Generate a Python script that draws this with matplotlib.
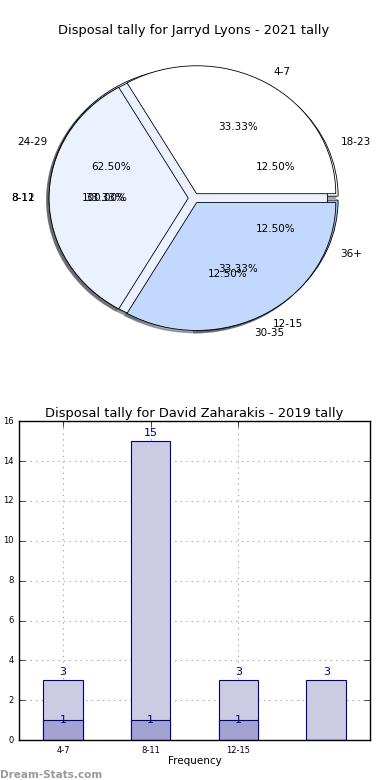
import matplotlib
matplotlib.use('Agg')
import matplotlib.pyplot as plt

plt.style.use('classic')

# 円グラフのデータ（3つの円が重ねて描かれている）
pie1_labels = ['4-7', '8-11', '12-15']
pie1_values = [1, 1, 1]
pie1_colors = ['#ffffff', '#ebf1ff', '#c3d8fd']

pie2_labels = ['18-23', '24-29', '30-35', '36+']
pie2_values = [1, 5, 1, 1]
pie2_colors = ['#ffffff', '#ebf1ff', '#c3d8fd', '#9fbff7']

pie3_labels = ['8-12']
pie3_values = [1]
pie3_colors = ['#ebf1ff']

# 棒グラフのデータ
bar_labels = ['4-7', '8-11', '12-15']
bar_total = [3, 15, 3, 3]
bar_low = [1, 1, 1, 0]

fig = plt.figure(figsize=(3.9, 7.8), dpi=100, facecolor='white')

ax1 = fig.add_axes([0.051, 0.541, 0.892, 0.41])
for vals, labs, cols in [(pie2_values, pie2_labels, pie2_colors),
                         (pie3_values, pie3_labels, pie3_colors),
                         (pie1_values, pie1_labels, pie1_colors)]:
    wedges, texts, autotexts = ax1.pie(vals, labels=labs, colors=cols, autopct='%.2f%%',
                                       explode=[0.04] * len(vals),
                                       shadow={'ox': -0.012, 'oy': -0.012, 'shade': 0.6},
                                       textprops={'fontsize': 7.5})
    for w in wedges:
        w.set_edgecolor('black')
        w.set_linewidth(0.6)
ax1.set_aspect('auto')
ax1.set_xlim(-1.25, 1.25)
ax1.set_ylim(-1.25, 1.25)
ax1.set_title('Disposal tally for Jarryd Lyons - 2021 tally', fontsize=9.4, pad=3)

ax2 = fig.add_axes([0.049, 0.051, 0.9, 0.409])
x = list(range(len(bar_total)))
ax2.bar(x, bar_total, width=0.45, align='center', color='#cbcbe3', edgecolor='navy', linewidth=0.8)
ax2.bar(x, bar_low, width=0.45, align='center', color='#a3a3d1', edgecolor='navy', linewidth=0.8)
for xi, h in zip(x, bar_total):
    ax2.text(xi, h + 0.15, str(h), ha='center', va='bottom', color='navy', fontsize=8)
for xi, h in zip(x, bar_low):
    if h > 0:
        ax2.text(xi, h, str(h), ha='center', va='center', color='navy', fontsize=8)
ax2.set_xlim(-0.5, 3.5)
ax2.set_ylim(0, 16)
ax2.set_xticks(range(len(bar_labels)))
ax2.set_xticklabels(bar_labels)
ax2.set_yticks(range(0, 17, 2))
ax2.tick_params(labelsize=6)
ax2.grid(True, color='#aaaaaa', linestyle=':', linewidth=0.8)
ax2.set_axisbelow(True)
ax2.set_xlabel('Frequency', fontsize=7.5, labelpad=1)
ax2.set_title('Disposal tally for David Zaharakis - 2019 tally', fontsize=9.4, pad=3)

fig.text(0.0, 0.003, 'Dream-Stats.com', fontsize=7.5, color='#999999', fontweight='bold')

plt.savefig('out.png', dpi=100, facecolor='white')
